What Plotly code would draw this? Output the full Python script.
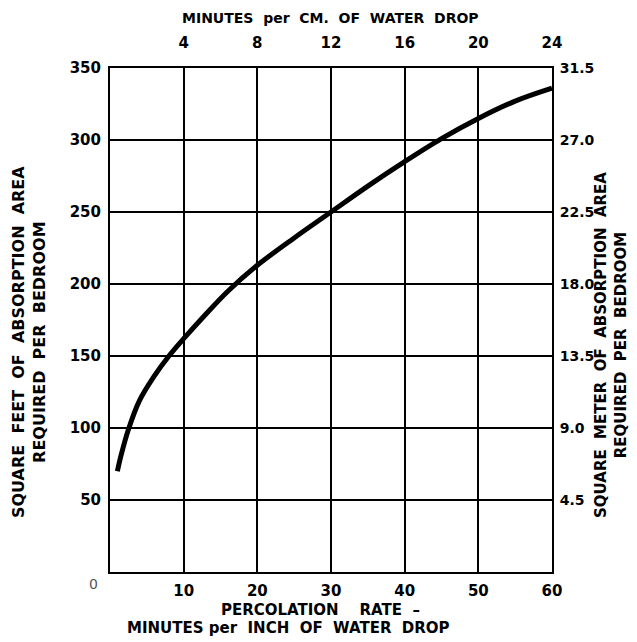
import plotly.graph_objects as go

# Percolation rate (minutes per inch) vs square feet of absorption area per bedroom
perc_rate = [1.0, 1.5, 2.5, 4.0, 6.0, 8.0, 10.0, 13.0, 16.0, 20.0, 25.0, 30.0, 35.0, 40.0, 45.0, 50.0, 55.0, 60.0]
sq_feet = [70, 81, 99, 119, 136, 150, 162, 179, 195, 213, 232, 250, 268, 285, 301, 315, 327, 336]

bottom_ticks = [10, 20, 30, 40, 50, 60]
top_tick_labels = ["4", "8", "12", "16", "20", "24"]
left_ticks = [50, 100, 150, 200, 250, 300, 350]
right_tick_labels = ["4.5", "9.0", "13.5", "18.0", "22.5", "27.0", "31.5"]
SQM_PER_SQFT = 0.09

FONT = "DejaVu Sans"
tick_font = dict(family=FONT, size=15, color="black", weight="bold")
right_tick_font = dict(family=FONT, size=14, color="black", weight="bold")
title_font = dict(family=FONT, size=15, color="black", weight="bold")
left_title_font = dict(family=FONT, size=16, color="black", weight="bold")
right_title_font = dict(family=FONT, size=15, color="black", weight="bold")

OFF = 8  # page body margin
W, H = 637 - OFF, 642 - OFF
L, R, T, B = 110 - OFF, 85, 68 - OFF, 70

fig = go.Figure()
fig.add_trace(go.Scatter(
    x=perc_rate, y=sq_feet, mode="lines",
    line=dict(color="black", width=5, shape="spline", smoothing=1.0),
    showlegend=False, hoverinfo="skip",
))
# invisible trace bound to the secondary axes so they render
fig.add_trace(go.Scatter(
    x=perc_rate, y=[v * SQM_PER_SQFT for v in sq_feet], mode="lines",
    line=dict(color="rgba(0,0,0,0)", width=0),
    xaxis="x2", yaxis="y2", showlegend=False, hoverinfo="skip",
))

axis_common = dict(showline=True, linecolor="black", linewidth=2, mirror=False,
                   ticks="", zeroline=False)

fig.update_layout(
    width=W, height=H,
    margin=dict(l=L, r=R, t=T, b=B, autoexpand=False),
    paper_bgcolor="white", plot_bgcolor="white",
    xaxis=dict(range=[0, 60], tickvals=bottom_ticks, ticktext=[str(v) for v in bottom_ticks],
               showgrid=True, gridcolor="black", gridwidth=1.5, tickfont=tick_font,
               ticklabelstandoff=4, **axis_common),
    yaxis=dict(range=[0, 350], tickvals=left_ticks, ticktext=[str(v) for v in left_ticks],
               showgrid=True, gridcolor="black", gridwidth=1.5, tickfont=tick_font,
               ticklabelstandoff=4, **axis_common),
    xaxis2=dict(range=[0, 60], overlaying="x", side="top", tickvals=bottom_ticks,
                ticktext=top_tick_labels, showgrid=False, tickfont=tick_font,
                ticklabelstandoff=12, **axis_common),
    yaxis2=dict(range=[0, 350 * SQM_PER_SQFT], overlaying="y", side="right",
                tickvals=[v * SQM_PER_SQFT for v in left_ticks], ticktext=right_tick_labels,
                showgrid=False, tickfont=right_tick_font, ticklabelstandoff=3, **axis_common),
)

annotations = [
    dict(text="0", x=93, y=584, font=dict(family=FONT, size=14, color="#555")),
    dict(text="MINUTES  per  CM.  OF  WATER  DROP", x=330, y=18,
         font=dict(family=FONT, size=14, color="black", weight="bold")),
    dict(text="PERCOLATION    RATE  –", x=320, y=610, font=title_font),
    dict(text="MINUTES per  INCH  OF  WATER  DROP", x=288, y=628, font=title_font),
    dict(text="SQUARE  FEET  OF  ABSORPTION  AREA<br>REQUIRED  PER  BEDROOM", x=29, y=342,
         textangle=-90, font=left_title_font),
    dict(text="SQUARE  METER  OF  ABSORPTION  AREA<br>REQUIRED  PER  BEDROOM", x=611, y=345,
         textangle=-90, font=right_title_font),
]
for a in annotations:
    fig.add_annotation(
        text=a["text"], xref="paper", yref="paper",
        x=(a["x"] - OFF - L) / (W - L - R), y=(H + OFF - B - a["y"]) / (H - T - B),
        xanchor="center", yanchor="middle", showarrow=False,
        textangle=a.get("textangle", 0), font=a["font"], align="center",
    )

fig.write_html("out.html")
